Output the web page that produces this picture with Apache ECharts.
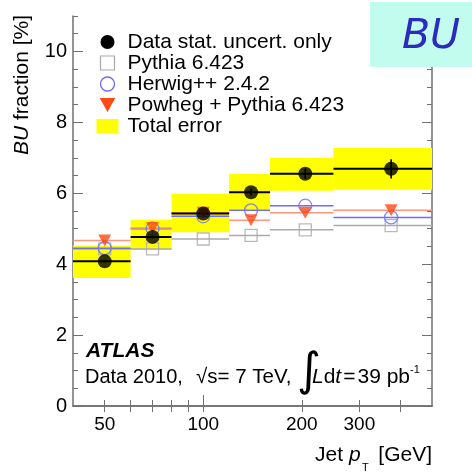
<!DOCTYPE html>
<html>
<head>
<meta charset="utf-8">
<style>
  html, body { margin: 0; padding: 0; background: #fff; }
  #chart { width: 472px; height: 474px; }
</style>
<script src="https://cdn.jsdelivr.net/npm/echarts@6/dist/echarts.min.js"></script>
</head>
<body>
<div id="chart"></div>
<script>
// Jet pT bins [GeV]
const binLow = [40, 60, 80, 120, 160, 250];
const binHigh = [60, 80, 120, 160, 250, 500];
const binCentre = [50, 70, 100, 140, 205, 375];

// BU fraction [%]
const dataFraction = [4.08, 4.77, 5.43, 6.03, 6.55, 6.69];
const dataStatErr = [0.03, 0.04, 0.06, 0.10, 0.15, 0.27];
const totalErrLow = [3.61, 4.41, 4.90, 5.54, 6.07, 6.10];
const totalErrHigh = [4.53, 5.25, 5.99, 6.55, 7.00, 7.28];
const pythiaFraction = [4.43, 4.43, 4.71, 4.81, 4.97, 5.09];
const herwigFraction = [4.45, 5.00, 5.35, 5.52, 5.65, 5.32];
const powhegFraction = [4.67, 5.02, 5.45, 5.24, 5.45, 5.52];

// Axis ticks
const xLabelValues = [50, 100, 200, 300];
const xTickValues = [50, 60, 70, 80, 90, 100, 200, 300, 400];

const FONT = 'Liberation Sans';
const AXIS_COLOR = '#707070';
const NAME_DATA = 'Data stat. uncert. only';
const NAME_PYTHIA = 'Pythia 6.423';
const NAME_HERWIG = 'Herwig++ 2.4.2';
const NAME_POWHEG = 'Powheg + Pythia 6.423';
const NAME_TOTAL = 'Total error';
const TRI_DOWN = 'path://M0,0L20,0L10,18Z';
const SQUARE = 'path://M0,0L20,0L20,20L0,20Z';

const chart = echarts.init(document.getElementById('chart'), null, { renderer: 'canvas' });

// Horizontal step of one bin at a given value
function binLineSeries(name, values, color, width, z) {
  return {
    type: 'custom', name: name, z: z, clip: true, silent: true,
    xAxisIndex: 0, yAxisIndex: 0,
    encode: { x: [0, 1], y: 2 },
    data: values.map((v, i) => [binLow[i], binHigh[i], v]),
    renderItem: function (params, api) {
      const a = api.coord([api.value(0), api.value(2)]);
      const b = api.coord([api.value(1), api.value(2)]);
      return { type: 'line', shape: { x1: a[0], y1: a[1], x2: b[0], y2: b[1] },
               style: { stroke: color, lineWidth: width } };
    }
  };
}

function markerSeries(name, values, symbol, size, itemStyle, z) {
  return {
    type: 'scatter', name: name, z: z, silent: true,
    xAxisIndex: 0, yAxisIndex: 0,
    symbol: symbol, symbolSize: size,
    itemStyle: itemStyle,
    data: values.map((v, i) => [binCentre[i], v])
  };
}

const logX = () => ({
  type: 'log', logBase: 10, min: 40, max: 500,
  axisLine: { show: true, lineStyle: { color: AXIS_COLOR, width: 1.5 } },
  splitLine: { show: false }, minorTick: { show: false }
});

const option = {
  animation: false,
  backgroundColor: '#fff',
  grid: { left: 73, right: 40, top: 16, bottom: 68, containLabel: false },
  legend: {
    orient: 'vertical', left: 96.5, top: 31.5, padding: 0,
    itemWidth: 22, itemHeight: 14, itemGap: 0,
    selectedMode: false,
    textStyle: { fontFamily: FONT, fontSize: 21, lineHeight: 19.5, color: '#000', padding: [0, 0, 0, 4] },
    data: [
      { name: NAME_DATA, icon: 'circle', itemStyle: { color: '#000', borderWidth: 0 } },
      { name: NAME_PYTHIA, icon: SQUARE, itemStyle: { color: 'rgba(0,0,0,0)', borderColor: '#a8a8a8', borderWidth: 1.2 } },
      { name: NAME_HERWIG, icon: 'circle', itemStyle: { color: 'rgba(0,0,0,0)', borderColor: '#6a6aff', borderWidth: 1.3 } },
      { name: NAME_POWHEG, icon: TRI_DOWN, itemStyle: { color: '#ff4a14', borderWidth: 0 } },
      { name: NAME_TOTAL, icon: 'rect', itemStyle: { color: '#ffff00', borderWidth: 0 } }
    ]
  },
  xAxis: [
    Object.assign(logX(), {
      position: 'bottom',
      axisTick: { show: true, inside: true, length: 6, customValues: xTickValues, lineStyle: { color: AXIS_COLOR, width: 1 } },
      axisLabel: { show: true, customValues: xLabelValues, fontFamily: FONT, fontSize: 19, color: '#000', margin: 9 }
    }),
    Object.assign(logX(), {
      position: 'top',
      axisTick: { show: true, inside: true, length: 6, customValues: xTickValues, lineStyle: { color: AXIS_COLOR, width: 1 } },
      axisLabel: { show: false }
    }),
    Object.assign(logX(), {
      position: 'bottom',
      axisLine: { show: false },
      axisTick: { show: true, inside: true, length: 11, customValues: [100], lineStyle: { color: AXIS_COLOR, width: 1 } },
      axisLabel: { show: false }
    })
  ],
  yAxis: [
    {
      type: 'value', min: 0, max: 11, interval: 2, position: 'left',
      axisLine: { show: true, lineStyle: { color: AXIS_COLOR, width: 1.5 } },
      axisTick: { show: true, inside: true, length: 10, lineStyle: { color: AXIS_COLOR, width: 1 } },
      axisLabel: { fontFamily: FONT, fontSize: 20, color: '#000', margin: 6, showMaxLabel: false },
      splitLine: { show: false }
    },
    {
      type: 'value', min: 0, max: 11, interval: 0.5, position: 'left',
      axisLine: { show: false },
      axisTick: { show: true, inside: true, length: 5, lineStyle: { color: AXIS_COLOR, width: 1 } },
      axisLabel: { show: false }, splitLine: { show: false }
    },
    {
      type: 'value', min: 0, max: 11, interval: 2, position: 'right',
      axisLine: { show: true, lineStyle: { color: AXIS_COLOR, width: 1.5 } },
      axisTick: { show: true, inside: true, length: 10, lineStyle: { color: AXIS_COLOR, width: 1 } },
      axisLabel: { show: false }, splitLine: { show: false }
    },
    {
      type: 'value', min: 0, max: 11, interval: 0.5, position: 'right',
      axisLine: { show: false },
      axisTick: { show: true, inside: true, length: 5, lineStyle: { color: AXIS_COLOR, width: 1 } },
      axisLabel: { show: false }, splitLine: { show: false }
    }
  ],
  series: [
    // total uncertainty boxes
    {
      type: 'custom', name: NAME_TOTAL, z: 1, clip: true, silent: true,
      xAxisIndex: 0, yAxisIndex: 0,
      encode: { x: [0, 1], y: [2, 3] },
      data: binLow.map((lo, i) => [lo, binHigh[i], totalErrLow[i], totalErrHigh[i]]),
      renderItem: function (params, api) {
        const p1 = api.coord([api.value(0), api.value(3)]);
        const p2 = api.coord([api.value(1), api.value(2)]);
        return { type: 'rect', shape: { x: p1[0], y: p1[1], width: p2[0] - p1[0], height: p2[1] - p1[1] },
                 style: { fill: '#ffff00' } };
      }
    },
    binLineSeries(NAME_PYTHIA, pythiaFraction, '#aaaaaa', 1.5, 2),
    binLineSeries(NAME_HERWIG, herwigFraction, '#6c6cff', 1.5, 2),
    binLineSeries(NAME_POWHEG, powhegFraction, '#ff967e', 1.5, 2),
    binLineSeries(NAME_DATA, dataFraction, '#000', 2, 3),
    // statistical error bars on data
    {
      type: 'custom', name: NAME_DATA, z: 3, clip: true, silent: true,
      xAxisIndex: 0, yAxisIndex: 0,
      encode: { x: 0, y: [1, 2] },
      data: binCentre.map((c, i) => [c, dataFraction[i] - dataStatErr[i], dataFraction[i] + dataStatErr[i]]),
      renderItem: function (params, api) {
        const a = api.coord([api.value(0), api.value(1)]);
        const b = api.coord([api.value(0), api.value(2)]);
        return { type: 'line', shape: { x1: a[0], y1: a[1], x2: b[0], y2: b[1] },
                 style: { stroke: '#000', lineWidth: 1.6 } };
      }
    },
    markerSeries(NAME_PYTHIA, pythiaFraction, 'rect', 12, { color: 'rgba(0,0,0,0)', borderColor: '#a8a8a8', borderWidth: 1.3 }, 4),
    markerSeries(NAME_HERWIG, herwigFraction, 'circle', 13, { color: 'rgba(0,0,0,0)', borderColor: '#6a6aff', borderWidth: 1.3 }, 4),
    markerSeries(NAME_POWHEG, powhegFraction, TRI_DOWN, [13, 12], { color: '#ff4a14' }, 4),
    markerSeries(NAME_DATA, dataFraction, 'circle', 14, { color: '#000' }, 5)
  ],
  graphic: [
    // y axis title
    {
      type: 'text', x: 22, y: 15, rotation: Math.PI / 2,
      style: {
        text: '{i|BU} fraction [%]',
        fontFamily: FONT, fontSize: 21, fill: '#000', align: 'right', verticalAlign: 'middle',
        rich: { i: { fontFamily: FONT, fontSize: 21, fontStyle: 'italic', fill: '#000' } }
      }
    },
    // x axis title
    { type: 'text', x: 315, y: 455, style: { text: 'Jet', fontFamily: FONT, fontSize: 21, fill: '#000', verticalAlign: 'middle' } },
    { type: 'text', x: 349, y: 455, style: { text: 'p', fontFamily: FONT, fontSize: 21, fontStyle: 'italic', fill: '#000', verticalAlign: 'middle' } },
    { type: 'text', x: 362, y: 468, style: { text: 'T', fontFamily: FONT, fontSize: 11, fill: '#000', verticalAlign: 'middle' } },
    { type: 'text', x: 432, y: 455, style: { text: '[GeV]', fontFamily: FONT, fontSize: 21, fill: '#000', align: 'right', verticalAlign: 'middle' } },
    // experiment label
    { type: 'text', x: 86, y: 351, style: { text: 'ATLAS', fontFamily: FONT, fontSize: 21, fontWeight: 'bold', fontStyle: 'italic', fill: '#000', verticalAlign: 'middle' } },
    { type: 'text', x: 85, y: 377, style: { text: 'Data 2010,', fontFamily: FONT, fontSize: 20, fill: '#000', verticalAlign: 'middle' } },
    { type: 'text', x: 196, y: 377, style: { text: '\u221As= 7 TeV,', fontFamily: FONT, fontSize: 20.5, fill: '#000', verticalAlign: 'middle' } },
    { type: 'text', x: 297, y: 373, style: { text: '\u222B', fontFamily: 'DejaVu Sans', fontSize: 46, fill: '#000', verticalAlign: 'middle' } },
    {
      type: 'text', x: 312, y: 377,
      style: {
        text: '{i|L}{n|d}{t|t}{e|=}{n|39 pb}', fontFamily: FONT, fontSize: 21, fill: '#000', verticalAlign: 'middle',
        rich: {
          i: { fontFamily: FONT, fontSize: 21, fontStyle: 'italic', fill: '#000' },
          t: { fontFamily: FONT, fontSize: 21, fontStyle: 'italic', fill: '#000', padding: [0, 1, 0, 0] },
          e: { fontFamily: FONT, fontSize: 21, fill: '#000', padding: [0, 2, 0, 1] },
          n: { fontFamily: FONT, fontSize: 21, fill: '#000' }
        }
      }
    },
    { type: 'text', x: 410, y: 370, style: { text: '-1', fontFamily: FONT, fontSize: 11, fill: '#000', verticalAlign: 'middle' } },
    // corner tag
    { type: 'rect', shape: { x: 370, y: 2, width: 102, height: 65 }, style: { fill: '#c2fcee' }, z: 10 },
    { type: 'text', x: 431, y: 37, z: 11, style: { text: 'BU', fontFamily: 'DejaVu Sans', fontSize: 41, fontStyle: 'italic', fill: '#2b2bbd', align: 'center', verticalAlign: 'middle' } }
  ]
};

chart.setOption(option);
</script>
</body>
</html>
